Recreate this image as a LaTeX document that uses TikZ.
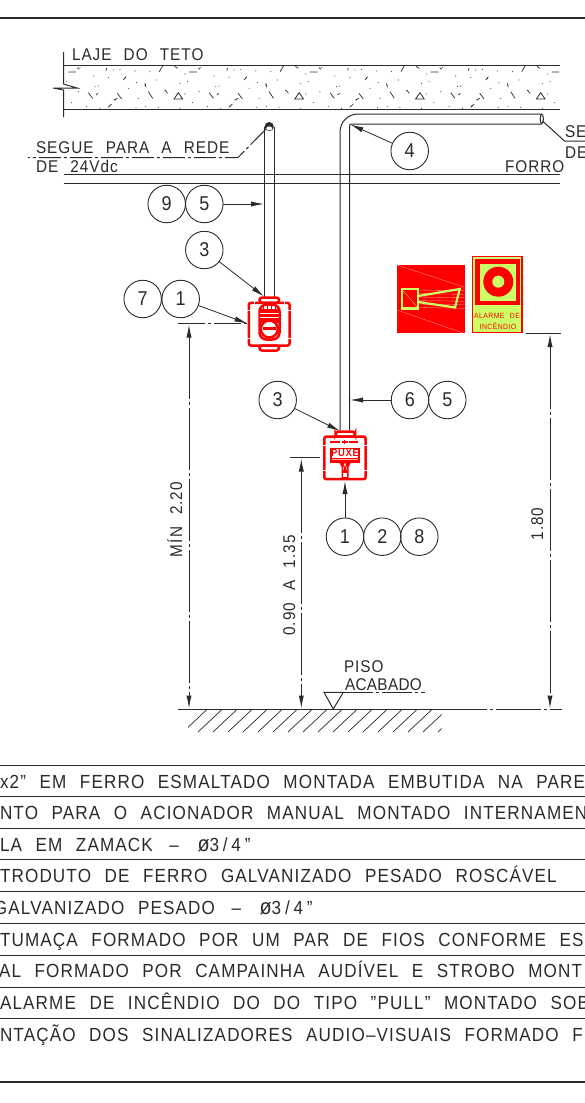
\documentclass[tikz,border=0pt]{standalone}
\usepackage{fontspec}
\setmainfont{Liberation Sans}[FakeStretch=0.9,WordSpace=2.3,LetterSpace=6]
\usetikzlibrary{arrows.meta}
\definecolor{ink}{HTML}{2A2A2A}
\definecolor{sigred}{HTML}{FF0000}
\definecolor{siggreen}{HTML}{CCFF66}
\newcommand{\phipipe}{\hspace{3pt}–\hspace{5pt} {\fontsize{22}{22}\selectfont ø}{\addfontfeatures{LetterSpace=20}3/4”}}
\tikzset{
  every node/.style={inner sep=0pt,outer sep=0pt,text=ink},
  ln/.style={draw=ink,line width=1pt},
  thick rule/.style={draw=ink,line width=1.3pt},
  dd/.style={draw=ink,line width=1pt,dash pattern=on 62pt off 3pt on 3pt off 3pt},
  lead/.style={draw=ink,line width=0.8pt,-{Latex[length=13pt,width=5.2pt]}},
  dimline/.style={dd,{Latex[length=13pt,width=5.2pt]}-{Latex[length=13pt,width=5.2pt]}},
  balloon/.style={circle,draw=ink,line width=0.9pt,minimum size=37.5pt,font=\fontsize{20}{20}\selectfont},
  cadl/.style={anchor=base west,font=\fontsize{17}{17}\selectfont},
  rowtxt/.style={anchor=base west,font=\fontsize{19}{19}\selectfont},
  redl/.style={draw=sigred,line width=2.5pt},
}
\begin{document}
\begin{tikzpicture}[x=1pt,y=-1pt]
\useasboundingbox (0,0) rectangle (585,1103);
\clip (0,0) rectangle (585,1103);
% frame rules
\draw[thick rule] (0,18) -- (585,18);
\draw[thick rule] (0,1082) -- (585,1082);
% slab
\draw[ln] (63.5,52) -- (63.5,84) -- (77,88) -- (53,88) -- (63.5,90) -- (63.5,117);
\draw[ln] (63.5,65) -- (560,65);
\draw[ln] (63.5,109.5) -- (560,109.5);
\begin{scope}
\clip (65,66) rectangle (560,109);
\foreach \k in {0,1,2,3,4}{
\begin{scope}[xshift=\k*120.8pt,x=0.3333pt,y=-0.3333pt]
 \foreach \a/\b in {200/245,280/228,325/232,340/210,360/208,405/213,450/215,525/200,555/222,240/203,375/235,410/248,435/255,295/258,235/275,285/260,385/265,215/308,260/320,300/325,328/318,345/300,408/322,437/320,475/322,540/325,495/272,415/295,555/282,470/240,540/250}
   {\fill[ink] (\a,\b) circle (1.6);}
 \draw[ink,line width=0.7pt] (205,216)--(228,216) (232,203)--(238,208) (478,215)--(488,198) (370,240)--(378,230) (265,278)--(278,295) (288,285)--(294,280) (352,280)--(365,297) (445,275)--(458,295) (495,270)--(503,280) (318,212)--(320,204) (525,200)--(533,205) (342,300)--(352,295) (435,250)--(438,262) (325,322)--(335,312);
 \draw[ink,line width=0.8pt] (522,297)--(548,297)--(535,278)--cycle;
\end{scope}}
\end{scope}
\node[cadl] (laje) at (72,60) {LAJE DO TETO};
% ceiling
\draw[ln] (63.5,174.5) -- (560,174.5);
\draw[ln] (63.5,183) -- (560,183);
\node[cadl] (forro) at (505,172) {FORRO};
% left conduit
\draw[ln] (264.5,127) -- (264.5,298);
\draw[ln] (274,127) -- (274,298);
\fill[ink] (269.2,126.6) circle (4.6);
\fill[white] (269.2,128.4) ellipse (3 and 2);
\coordinate (pipeL) at (266,129);
\coordinate (knee1) at (238,157.5);
\coordinate (lineL) at (28,157.5);
\draw[dd,dash pattern=on 22pt off 3pt on 3pt off 3pt] (pipeL) -- (knee1) -- (lineL);
\node[cadl] (segue1) at (36,153) {SEGUE PARA A REDE};
\node[cadl] (de24) at (36,172) {DE 24Vdc};
% right conduit
\draw[ln] (340,430) -- (340,132) arc (180:270:18) -- (541.5,114);
\draw[ln] (349.5,430) -- (349.5,126) arc (180:270:2) -- (541.5,124);
\draw[ln] (541.8,119) ellipse (1.6 and 4.8);
\coordinate (pipeR) at (542.5,121);
\coordinate (knee2) at (564.5,141);
\coordinate (lineR) at (585,141);
\draw[ln] (pipeR) -- (knee2) -- (lineR);
\node[cadl] (se) at (565,137) {SE};
\node[cadl] (de) at (565,158) {DE};
% balloons
\node[balloon] (b4) at (409.7,151) {4};
\node[balloon] (b9) at (166.7,204) {9};
\node[balloon] (b5a) at (204.3,204) {5};
\node[balloon] (b3a) at (204.3,250) {3};
\node[balloon] (b7) at (142.7,299) {7};
\node[balloon] (b1a) at (180.7,299) {1};
\node[balloon] (b3b) at (277.7,400) {3};
\node[balloon] (b6) at (410,400) {6};
\node[balloon] (b5b) at (447.3,400) {5};
\node[balloon] (b1b) at (345,536.7) {1};
\node[balloon] (b2) at (382.3,536.7) {2};
\node[balloon] (b8) at (419.3,536.7) {8};
\coordinate (t4) at (350.5,124.5);
\coordinate (t95) at (264,204);
\coordinate (t3a) at (264,296.5);
\coordinate (t71) at (247.5,323.5);
\coordinate (t3b) at (340,431);
\coordinate (t65) at (350,400);
\coordinate (t128) at (345,481);
\draw[lead] (b4) -- (t4);
\draw[lead] (b5a) -- (t95);
\draw[lead] (b3a) -- (t3a);
\draw[lead] (b1a) -- (t71);
\draw[lead] (b3b) -- (t3b);
\draw[lead] (b6) -- (t65);
\draw[lead] (b1b) -- (t128);
% device 1
\draw[redl,rounded corners=2pt] (248.9,302.8) rectangle (289.5,345.5);
\draw[redl,rounded corners=2.5pt] (259.5,297.5) rectangle (279,302.8);
\draw[redl,rounded corners=2.5pt] (259.5,345.5) rectangle (279,350.5);
\draw[redl,fill=white,rounded corners=7pt] (259.5,304.5) rectangle (279.5,339.5);
\fill[sigred] (260,309) rectangle (279,323);
\draw[white,line width=0.5pt] (260,313) -- (279,313) (260,317) -- (279,317);
\foreach \a in {263,267,271,275}{\draw[sigred,line width=0.9pt] (\a,305) -- (\a,309);}
\draw[redl,fill=white] (269.3,329) circle (8.5);
\draw[sigred,line width=2.6pt] (263,328.5) -- (276,328.5);
\draw[white,line width=0.7pt] (247,310) -- (251,310) (287,310) -- (291,310) (254,301) -- (254,305) (284,301) -- (284,305) (247,338) -- (251,338) (287,338) -- (291,338);
% device 2
\draw[redl,rounded corners=2pt] (324.3,436.5) rectangle (365.6,479.2);
\draw[redl,rounded corners=2.5pt] (335.5,431.7) rectangle (355,436.5);
\draw[sigred,line width=2pt] (330,441.7) -- (340,441.7) (349,441.7) -- (358,441.7);
\draw[sigred,line width=1.7pt] (341.5,441.7) -- (347.5,441.7) (344.5,439.5) -- (344.5,444);
\draw[sigred,line width=1.6pt] (331,448.5) rectangle (359,462.5);
\fill[sigred] (331,457.5) rectangle (359,462.5);
\node[font=\fontsize{10.5}{10.5}\selectfont\bfseries,text=sigred] (puxe) at (345,453) {PUXE};
\fill[sigred] (338,460) -- (352,460) -- (348.5,467) -- (348.5,478) -- (341.5,478) -- (341.5,467) -- cycle;
\fill[white] (342.8,472.5) rectangle (347.2,477);
\draw[white,line width=0.5pt] (345,463) -- (343,470) (345,463) -- (347,470) (332,459.5) -- (358,459.5);
\draw[white,line width=0.7pt] (322,445) -- (327,445) (363,445) -- (368,445) (322,470) -- (327,470) (363,470) -- (368,470);
% sign 1
\fill[sigred] (396.7,265) rectangle (465,333.3);
\draw[white!60!sigred,line width=0.35pt] (397,265) -- (464,287) (397,310) -- (463,333);
\foreach \a in {290,293.5,...,308}{\draw[white!65!sigred,line width=0.3pt] (418,\a) -- (464,\a+0.8);}
\draw[siggreen,line width=2.2pt] (402.2,289) rectangle (418.3,308.5);
\draw[siggreen,line width=2.2pt] (418.3,296) -- (459.7,289) -- (455,307.5) -- (418.3,302);
\draw[siggreen,line width=0.3pt] (402.5,290) -- (418,308);
% sign 2
\fill[siggreen] (471.7,256) rectangle (522.5,333.3);
\draw[sigred,line width=1.5pt] (472.4,256.7) rectangle (521.8,332.6);
\draw[sigred,line width=4.5pt] (477.5,261.5) rectangle (518,303);
\fill[sigred] (498.3,281.7) circle (15);
\fill[siggreen] (498.3,281.7) circle (6);
\node[font=\fontsize{7.6}{7.6}\selectfont,text=sigred] (al1) at (497,315.5) {ALARME DE};
\node[font=\fontsize{7.6}{7.6}\selectfont,text=sigred] (al2) at (498,326) {INCÊNDIO};
% floor
\begin{scope}
\clip (188,709) rectangle (441.7,732);
\foreach \k in {-1,0,...,16}{\draw[ink,line width=0.7pt] (198+15*\k,732) -- (222.5+15*\k,709);}
\end{scope}
\coordinate (fl0) at (178,709);
\coordinate (fl1) at (441.7,709);
\coordinate (fl2) at (561.7,709);
\draw[ln] (fl0) -- (fl1);
\draw[dd,dash pattern=on 45pt off 3pt on 3pt off 3pt] (fl1) -- (fl2);
% dimensions
\coordinate (e1a) at (177.7,323.5);
\coordinate (e1b) at (247.5,323.5);
\draw[dd,dash pattern=on 27pt off 3pt on 3pt off 3pt] (e1a) -- (e1b);
\draw[ln] (290,457.7) -- (320,457.7);
\draw[ln] (526,333) -- (561,333);
\coordinate (d1t) at (189,324.5);
\coordinate (d1b) at (189,708.5);
\coordinate (d2t) at (301.3,458.5);
\coordinate (d2b) at (301.3,708.5);
\coordinate (d3t) at (550,334);
\coordinate (d3b) at (550,708.5);
\draw[dimline] (d1t) -- (d1b);
\draw[dimline] (d2t) -- (d2b);
\draw[dimline] (d3t) -- (d3b);
\node[font=\fontsize{17}{17}\selectfont,rotate=90,anchor=base] (mn) at (182,519.5) {MÍN 2.20};
\node[font=\fontsize{17}{17}\selectfont,rotate=90,anchor=base] (ma) at (295,585.5) {0.90 A 1.35};
\node[font=\fontsize{17}{17}\selectfont,rotate=90,anchor=base] (t18) at (543,524) {1.80};
% finished floor mark
\coordinate (tri1) at (324,692.3);
\coordinate (tri2) at (343.3,692.3);
\coordinate (tri3) at (333.3,709);
\coordinate (und) at (424.5,692.3);
\draw[ln] (tri1) -- (tri2) -- (tri3) -- cycle;
\draw[dd,dash pattern=on 30pt off 3pt on 3pt off 3pt] (tri2) -- (und);
\node[cadl] (piso) at (344,672.7) {PISO};
\node[cadl] (acab) at (345,690) {\addfontfeatures{LetterSpace=2}ACABADO};
% table
\foreach \y in {765,796,828,859,891,923,955,987,1018}{\draw[ln] (0,\y) -- (585,\y);}
\node[rowtxt] (r1) at (0,788) {x2” EM FERRO ESMALTADO MONTADA EMBUTIDA NA PARE};
\node[rowtxt] (r2) at (0,819.5) {NTO PARA O ACIONADOR MANUAL MONTADO INTERNAMEN};
\node[rowtxt] (r3) at (0,851) {LA EM ZAMACK \phipipe};
\node[rowtxt] (r4) at (0,882.7) {TRODUTO DE FERRO GALVANIZADO PESADO ROSCÁVEL};
\node[rowtxt] (r5) at (-6,914) {GALVANIZADO PESADO \phipipe};
\node[rowtxt] (r6) at (0,946) {TUMAÇA FORMADO POR UM PAR DE FIOS CONFORME ESP};
\node[rowtxt] (r7) at (-1,977.7) {AL FORMADO POR CAMPAINHA AUDÍVEL E STROBO MONT};
\node[rowtxt] (r8) at (0,1009.5) {ALARME DE INCÊNDIO DO DO TIPO "PULL" MONTADO SOB};
\node[rowtxt] (r9) at (0,1041.7) {NTAÇÃO DOS SINALIZADORES AUDIO–VISUAIS FORMADO F};
\end{tikzpicture}
\end{document}
